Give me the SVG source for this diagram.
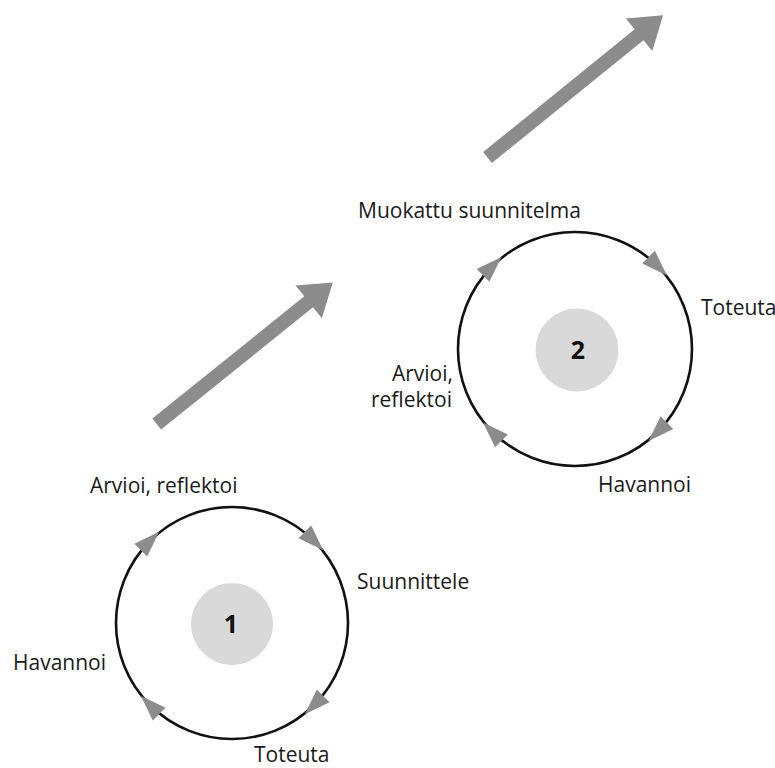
<svg xmlns="http://www.w3.org/2000/svg" width="775" height="768" viewBox="0 0 775 768">
<style>
.lbl{font-family:"Open Sans","Noto Sans",sans-serif;font-size:21px;fill:#1a1a1a}
.num{font-family:"Open Sans","Noto Sans",sans-serif;font-size:25px;font-weight:bold;fill:#111;text-anchor:middle}
.ring{fill:none;stroke:#111;stroke-width:2.6}
.core{fill:#d9d9d9}
.ah{fill:#8c8c8c}
.big{fill:#8c8c8c}
</style>
<defs>
<polygon id="head" points="13,0 -13,-9 -13,9"/>
<polygon id="bigarrow" points="0,-7 195,-7 195,-21 226,0 195,21 195,7 0,7"/>
</defs>
<rect width="775" height="768" fill="#fff"/>
<g id="connectors">
<use href="#bigarrow" class="big" transform="translate(156.7,424) rotate(-38.8)"/>
<use href="#bigarrow" class="big" transform="translate(487.5,157.5) rotate(-39)"/>
</g>
<g id="cycle1">
<circle class="ring" cx="232" cy="623" r="116"/>
<circle class="core" cx="232" cy="624" r="41"/>
<text class="num" x="231" y="633">1</text>
<use href="#head" class="ah" transform="translate(232,623) rotate(-135) translate(116,0) rotate(90)"/>
<use href="#head" class="ah" transform="translate(232,623) rotate(-45) translate(116,0) rotate(90)"/>
<use href="#head" class="ah" transform="translate(232,623) rotate(45) translate(116,0) rotate(90)"/>
<use href="#head" class="ah" transform="translate(232,623) rotate(135) translate(116,0) rotate(90)"/>
</g>
<g id="cycle2">
<circle class="ring" cx="575" cy="349" r="117"/>
<circle class="core" cx="577" cy="350" r="41.5"/>
<text class="num" x="578" y="359">2</text>
<use href="#head" class="ah" transform="translate(575,349) rotate(-135) translate(117,0) rotate(90)"/>
<use href="#head" class="ah" transform="translate(575,349) rotate(-45) translate(117,0) rotate(90)"/>
<use href="#head" class="ah" transform="translate(575,349) rotate(45) translate(117,0) rotate(90)"/>
<use href="#head" class="ah" transform="translate(575,349) rotate(135) translate(117,0) rotate(90)"/>
</g>
<g id="labels1">
<text class="lbl" x="90" y="493">Arvioi, reflektoi</text>
<text class="lbl" x="357" y="589">Suunnittele</text>
<text class="lbl" x="13" y="670">Havannoi</text>
<text class="lbl" x="254" y="762">Toteuta</text>
</g>
<g id="labels2">
<text class="lbl" x="358" y="218">Muokattu suunnitelma</text>
<text class="lbl" x="701" y="315">Toteuta</text>
<text class="lbl" x="453" y="381" text-anchor="end">Arvioi,</text>
<text class="lbl" x="452" y="407" text-anchor="end">reflektoi</text>
<text class="lbl" x="598" y="492">Havannoi</text>
</g>
</svg>
